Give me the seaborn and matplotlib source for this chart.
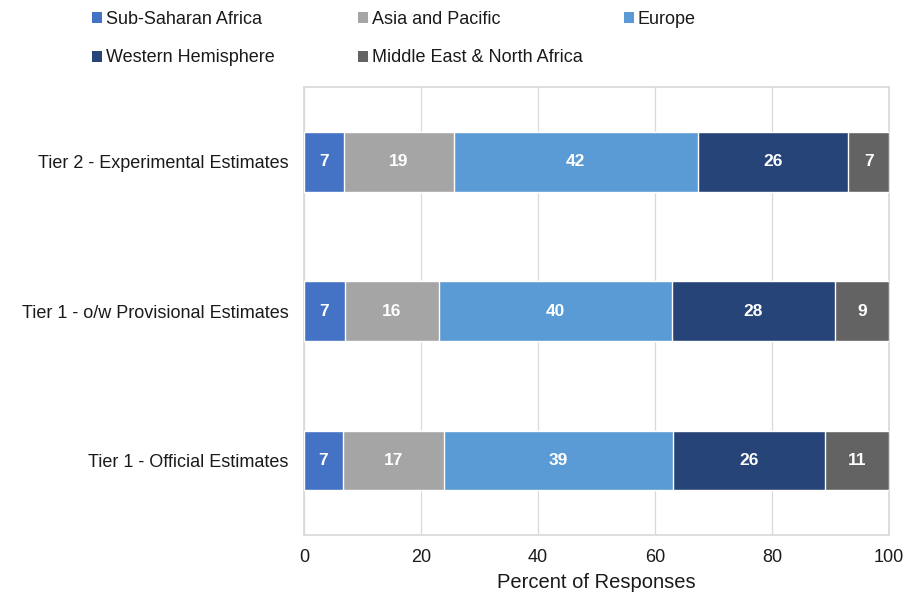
import pandas as pd
import matplotlib.pyplot as plt
import seaborn as sns
from matplotlib.patches import Patch

# Data (percent of responses)
tiers = ['Tier 2 - Experimental Estimates',
         'Tier 1 - o/w Provisional Estimates',
         'Tier 1 - Official Estimates']
regions = ['Sub-Saharan Africa', 'Asia and Pacific', 'Europe',
           'Western Hemisphere', 'Middle East & North Africa']
sub_saharan = [6.9, 7.0, 6.7]
asia_pacific = [18.7, 16.1, 17.2]
europe = [41.7, 39.8, 39.2]
western_hem = [25.8, 27.9, 26.0]
mena = [6.9, 9.2, 10.9]
colors = ['#4472C4', '#A5A5A5', '#5B9BD5', '#264478', '#636363']

# Build long table with cumulative ends for stacking
series = [sub_saharan, asia_pacific, europe, western_hem, mena]
rows = []
for i, t in enumerate(tiers):
    cum = 0
    for r, s in zip(regions, series):
        cum += s[i]
        rows.append({'tier': t, 'region': r, 'value': s[i], 'cum': cum})
df = pd.DataFrame(rows)

sns.set_theme(style='white')
plt.rcParams['font.family'] = ['Liberation Sans', 'DejaVu Sans']

fig = plt.figure(figsize=(9.07, 6.02), dpi=100)
ax = fig.add_axes([0.335, 0.111, 0.645, 0.744])

# draw the longest cumulative bar first, shorter ones on top
for r, c in reversed(list(zip(regions, colors))):
    sub = df[df['region'] == r]
    sns.barplot(data=sub, x='cum', y='tier', order=tiers, color=c,
                saturation=1, width=0.4, orient='h', ax=ax, zorder=3)

# value labels
for _, row in df.iterrows():
    y = tiers.index(row['tier'])
    ax.text(row['cum'] - row['value'] / 2, y, f"{row['value']:.0f}",
            ha='center', va='center', color='white', fontsize=12.5,
            fontweight='bold', zorder=4)

ax.set_xlim(0, 100)
ax.set_xticks([0, 20, 40, 60, 80, 100])
ax.grid(axis='x', color='#D9D9D9', linewidth=0.9, zorder=0)
ax.set_axisbelow(True)
for sp in ax.spines.values():
    sp.set_color('#D9D9D9')
ax.tick_params(axis='both', length=0, labelsize=13, colors='#1a1a1a')
ax.tick_params(axis='y', pad=11)
ax.tick_params(axis='x', pad=10)
ax.set_ylabel('')
ax.set_xlabel('Percent of Responses', fontsize=14.5, color='#1a1a1a', labelpad=5)

# legend: three columns laid out at fixed positions (row-wise order)
handles = [Patch(facecolor=c, edgecolor='none') for c in colors]
columns = [([0, 3], 0.086), ([1, 4], 0.379), ([2], 0.672)]
for idx, xpos in columns:
    fig.legend([handles[i] for i in idx], [regions[i] for i in idx],
               loc='upper left', bbox_to_anchor=(xpos, 1.006), frameon=False,
               fontsize=13, handlelength=0.55, handleheight=0.55,
               handletextpad=0.2, labelspacing=1.2, borderpad=0.3,
               labelcolor='#1a1a1a')

fig.savefig('out.png', dpi=100)
